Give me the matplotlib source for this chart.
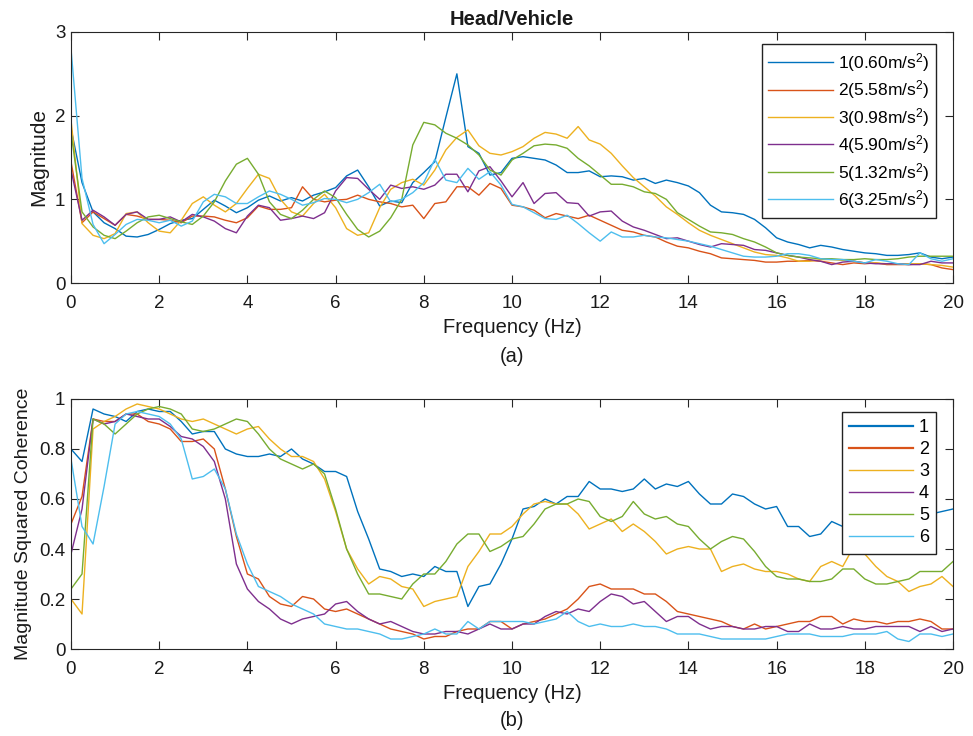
import numpy as np
import matplotlib
matplotlib.use("Agg")
import matplotlib.pyplot as plt

plt.rcParams['font.family'] = ['Liberation Sans', 'DejaVu Sans']
plt.rcParams['mathtext.default'] = 'regular'

# frequency grid (Hz)
freq = np.linspace(0, 20, 81)

# (a) Head/Vehicle transmissibility magnitude
mag1 = [1.85, 1.2, 0.85, 0.72, 0.65, 0.56, 0.55, 0.58, 0.64, 0.71,
        0.75, 0.77, 0.88, 0.99, 0.92, 0.84, 0.9, 0.99, 1.04, 0.98,
        1.02, 0.98, 1.05, 1.09, 1.14, 1.28, 1.35, 1.15, 0.92, 0.98,
        0.96, 1.2, 1.32, 1.45, 1.98, 2.5, 1.63, 1.55, 1.29, 1.32,
        1.49, 1.51, 1.49, 1.47, 1.41, 1.32, 1.32, 1.34, 1.27, 1.28,
        1.27, 1.23, 1.25, 1.19, 1.23, 1.2, 1.16, 1.08, 0.93, 0.85,
        0.84, 0.82, 0.76, 0.66, 0.54, 0.49, 0.46, 0.42, 0.45, 0.43,
        0.4, 0.38, 0.36, 0.35, 0.33, 0.33, 0.34, 0.36, 0.31, 0.29,
        0.31]
mag2 = [1.45, 0.72, 0.85, 0.77, 0.69, 0.82, 0.8, 0.76, 0.76, 0.75,
        0.72, 0.8, 0.8, 0.79, 0.75, 0.72, 0.78, 0.92, 0.88, 0.88,
        0.9, 1.15, 1.0, 0.97, 0.99, 1.0, 1.05, 1.0, 0.97, 0.95,
        0.91, 0.93, 0.77, 0.95, 0.97, 1.15, 1.15, 1.05, 1.19, 1.13,
        0.93, 0.91, 0.87, 0.78, 0.83, 0.8, 0.77, 0.81, 0.75, 0.69,
        0.63, 0.61, 0.57, 0.55, 0.49, 0.44, 0.42, 0.38, 0.35, 0.3,
        0.29, 0.28, 0.27, 0.25, 0.25, 0.26, 0.26, 0.27, 0.26, 0.24,
        0.22, 0.24, 0.23, 0.24, 0.22, 0.22, 0.22, 0.23, 0.22, 0.18,
        0.16]
mag3 = [1.95, 0.71, 0.57, 0.53, 0.59, 0.83, 0.85, 0.72, 0.62, 0.6,
        0.75, 0.95, 1.03, 0.93, 0.85, 0.95, 1.13, 1.3, 1.25, 1.0,
        0.85, 0.8, 0.95, 1.06, 0.9, 0.65, 0.57, 0.6, 0.9, 1.12,
        1.2, 1.24, 1.17, 1.35, 1.59, 1.74, 1.83, 1.64, 1.55, 1.53,
        1.57, 1.63, 1.73, 1.8, 1.78, 1.73, 1.87, 1.71, 1.66, 1.55,
        1.4, 1.26, 1.15, 1.04, 0.91, 0.82, 0.72, 0.63, 0.57, 0.52,
        0.47, 0.42, 0.37, 0.34, 0.33, 0.3, 0.26, 0.26, 0.28, 0.28,
        0.27, 0.26, 0.24, 0.24, 0.23, 0.23, 0.23, 0.23, 0.22, 0.21,
        0.19]
mag4 = [1.35, 0.75, 0.87, 0.79, 0.69, 0.82, 0.85, 0.76, 0.76, 0.79,
        0.73, 0.82, 0.79, 0.74, 0.65, 0.6, 0.8, 0.93, 0.9, 0.75,
        0.77, 0.8, 0.77, 0.84, 1.1, 1.26, 1.25, 1.12, 1.0, 1.17,
        1.13, 1.15, 1.12, 1.17, 1.3, 1.3, 1.09, 1.34, 1.39, 1.22,
        1.03, 1.2, 0.95, 1.07, 1.08, 0.96, 0.95, 0.8, 0.85, 0.86,
        0.74, 0.67, 0.63, 0.58, 0.53, 0.54, 0.5, 0.46, 0.43, 0.47,
        0.46, 0.45, 0.4, 0.39, 0.36, 0.33, 0.31, 0.28, 0.26, 0.22,
        0.25, 0.26, 0.24, 0.23, 0.23, 0.23, 0.22, 0.22, 0.26, 0.24,
        0.24]
mag5 = [1.8, 0.85, 0.67, 0.57, 0.53, 0.62, 0.72, 0.79, 0.81, 0.77,
        0.73, 0.7, 0.8, 0.97, 1.22, 1.42, 1.49, 1.3, 0.97, 0.82,
        0.77, 0.87, 1.0, 1.1, 1.02, 0.82, 0.64, 0.55, 0.62, 0.78,
        1.0, 1.65, 1.92, 1.89, 1.79, 1.73, 1.65, 1.53, 1.35, 1.29,
        1.47, 1.55, 1.64, 1.66, 1.65, 1.61, 1.49, 1.4, 1.29, 1.18,
        1.18, 1.15, 1.09, 1.07, 1.0, 0.84, 0.76, 0.68, 0.61, 0.6,
        0.58, 0.53, 0.49, 0.43, 0.36, 0.33, 0.31, 0.3, 0.29, 0.29,
        0.28, 0.28, 0.29, 0.28, 0.28, 0.29, 0.31, 0.32, 0.32, 0.32,
        0.32]
mag6 = [2.8, 1.25, 0.7, 0.47, 0.58, 0.7, 0.76, 0.75, 0.72, 0.75,
        0.68, 0.74, 0.97, 1.06, 1.03, 0.95, 0.95, 1.03, 1.1, 1.06,
        1.0, 0.93, 0.96, 1.01, 1.0, 0.96, 1.0, 1.08, 1.18, 0.97,
        1.0, 1.08, 1.2, 1.48, 1.23, 1.2, 1.37, 1.24, 1.33, 1.17,
        0.94, 0.91, 0.84, 0.77, 0.76, 0.81, 0.71, 0.6, 0.5, 0.61,
        0.55, 0.55, 0.57, 0.55, 0.54, 0.52, 0.5, 0.47, 0.44, 0.4,
        0.36, 0.32, 0.31, 0.31, 0.32, 0.35, 0.35, 0.33, 0.29, 0.28,
        0.28, 0.26, 0.24, 0.28, 0.26, 0.23, 0.22, 0.36, 0.29, 0.26,
        0.29]

# (b) magnitude squared coherence
coh1 = [0.8, 0.75, 0.96, 0.94, 0.93, 0.91, 0.95, 0.96, 0.95, 0.95,
        0.91, 0.86, 0.87, 0.87, 0.8, 0.78, 0.77, 0.77, 0.78, 0.77,
        0.8, 0.76, 0.74, 0.71, 0.71, 0.69, 0.55, 0.44, 0.32, 0.31,
        0.29, 0.3, 0.29, 0.33, 0.31, 0.31, 0.17, 0.25, 0.26, 0.34,
        0.44, 0.56, 0.57, 0.6, 0.58, 0.61, 0.61, 0.67, 0.64, 0.64,
        0.63, 0.64, 0.68, 0.64, 0.66, 0.65, 0.67, 0.62, 0.58, 0.58,
        0.62, 0.61, 0.58, 0.56, 0.57, 0.49, 0.49, 0.45, 0.46, 0.51,
        0.49, 0.46, 0.48, 0.5, 0.52, 0.5, 0.52, 0.53, 0.54, 0.55,
        0.56]
coh2 = [0.5, 0.61, 0.92, 0.91, 0.91, 0.94, 0.94, 0.91, 0.9, 0.88,
        0.83, 0.83, 0.84, 0.8, 0.64, 0.45, 0.3, 0.28, 0.21, 0.18,
        0.17, 0.21, 0.2, 0.16, 0.15, 0.16, 0.14, 0.12, 0.1, 0.08,
        0.07, 0.06, 0.04, 0.05, 0.05, 0.07, 0.08, 0.08, 0.11, 0.11,
        0.08, 0.1, 0.11, 0.12, 0.14, 0.16, 0.2, 0.25, 0.26, 0.24,
        0.24, 0.24, 0.22, 0.22, 0.19, 0.15, 0.14, 0.13, 0.12, 0.11,
        0.09, 0.08, 0.1, 0.08, 0.09, 0.1, 0.11, 0.11, 0.13, 0.13,
        0.1, 0.12, 0.11, 0.11, 0.1, 0.11, 0.11, 0.12, 0.11, 0.08,
        0.08]
coh3 = [0.2, 0.14, 0.88, 0.91, 0.93, 0.96, 0.98, 0.97, 0.96, 0.94,
        0.92, 0.91, 0.92, 0.9, 0.88, 0.86, 0.88, 0.89, 0.84, 0.8,
        0.77, 0.77, 0.75, 0.68, 0.55, 0.4, 0.32, 0.26, 0.29, 0.28,
        0.25, 0.24, 0.17, 0.19, 0.2, 0.21, 0.33, 0.39, 0.46, 0.46,
        0.49, 0.54, 0.58, 0.59, 0.58, 0.58, 0.54, 0.48, 0.5, 0.52,
        0.47, 0.5, 0.47, 0.43, 0.38, 0.4, 0.41, 0.4, 0.4, 0.31,
        0.33, 0.34, 0.32, 0.31, 0.31, 0.3, 0.28, 0.27, 0.33, 0.35,
        0.33, 0.41, 0.38, 0.33, 0.29, 0.27, 0.23, 0.25, 0.26, 0.29,
        0.25]
coh4 = [0.38, 0.56, 0.92, 0.9, 0.91, 0.94, 0.93, 0.92, 0.92, 0.89,
        0.85, 0.84, 0.81, 0.75, 0.6, 0.34, 0.24, 0.19, 0.16, 0.12,
        0.1, 0.12, 0.13, 0.14, 0.18, 0.19, 0.15, 0.12, 0.1, 0.11,
        0.09, 0.07, 0.06, 0.06, 0.07, 0.07, 0.06, 0.08, 0.1, 0.08,
        0.08, 0.1, 0.1, 0.13, 0.15, 0.14, 0.16, 0.15, 0.19, 0.22,
        0.21, 0.18, 0.19, 0.15, 0.11, 0.13, 0.13, 0.1, 0.08, 0.09,
        0.09, 0.08, 0.08, 0.09, 0.09, 0.07, 0.07, 0.1, 0.08, 0.08,
        0.09, 0.08, 0.08, 0.09, 0.09, 0.09, 0.09, 0.07, 0.09, 0.07,
        0.08]
coh5 = [0.24, 0.3, 0.92, 0.9, 0.86, 0.9, 0.94, 0.96, 0.97, 0.96,
        0.94, 0.88, 0.87, 0.88, 0.9, 0.92, 0.91, 0.86, 0.8, 0.76,
        0.74, 0.72, 0.74, 0.7, 0.56, 0.4, 0.3, 0.22, 0.22, 0.21,
        0.2, 0.26, 0.3, 0.3, 0.35, 0.42, 0.46, 0.46, 0.39, 0.41,
        0.44, 0.45, 0.5, 0.56, 0.58, 0.58, 0.6, 0.59, 0.53, 0.51,
        0.53, 0.59, 0.54, 0.52, 0.53, 0.5, 0.49, 0.44, 0.4, 0.43,
        0.45, 0.44, 0.39, 0.33, 0.29, 0.28, 0.28, 0.27, 0.27, 0.28,
        0.32, 0.32, 0.28, 0.26, 0.26, 0.27, 0.28, 0.31, 0.31, 0.31,
        0.35]
coh6 = [0.76, 0.49, 0.42, 0.65, 0.9, 0.94, 0.95, 0.94, 0.93, 0.9,
        0.84, 0.68, 0.69, 0.72, 0.64, 0.46, 0.34, 0.25, 0.23, 0.21,
        0.18, 0.16, 0.14, 0.1, 0.09, 0.08, 0.08, 0.07, 0.06, 0.04,
        0.04, 0.05, 0.06, 0.08, 0.06, 0.06, 0.11, 0.08, 0.11, 0.11,
        0.11, 0.11, 0.1, 0.11, 0.12, 0.15, 0.11, 0.09, 0.1, 0.09,
        0.09, 0.1, 0.09, 0.09, 0.08, 0.06, 0.06, 0.06, 0.05, 0.04,
        0.04, 0.04, 0.04, 0.04, 0.05, 0.06, 0.06, 0.06, 0.05, 0.05,
        0.05, 0.06, 0.06, 0.06, 0.07, 0.04, 0.03, 0.06, 0.06, 0.05,
        0.06]

labels_a = ['1(0.60m/s$^{2}$)', '2(5.58m/s$^{2}$)', '3(0.98m/s$^{2}$)',
            '4(5.90m/s$^{2}$)', '5(1.32m/s$^{2}$)', '6(3.25m/s$^{2}$)']
labels_b = ['1', '2', '3', '4', '5', '6']
colors = ['#0072BD', '#D95319', '#EDB120', '#7E2F8E', '#77AC30', '#4DBEEE']
xticks = [0, 2, 4, 6, 8, 10, 12, 14, 16, 18, 20]

AX_COL = '#262626'
TXT_COL = '#1a1a1a'

W, H = 973, 736
fig = plt.figure(figsize=(W / 100, H / 100), dpi=100)
ax1 = fig.add_axes([71 / W, 1 - 283 / H, 882 / W, 251 / H])
ax2 = fig.add_axes([71 / W, 1 - 649 / H, 882 / W, 250 / H])


def style(ax, yticks):
    ax.set_xlim(0, 20)
    ax.set_xticks(xticks)
    ax.set_yticks(yticks)
    ax.tick_params(direction='in', top=True, right=True, length=6, width=0.8,
                   color=AX_COL, labelcolor=TXT_COL, labelsize=13.5)
    ax.tick_params(axis='x', pad=9)
    ax.tick_params(axis='y', pad=4)
    for s in ax.spines.values():
        s.set_color(AX_COL)
        s.set_linewidth(0.8)
    ax.set_xlabel('Frequency (Hz)', fontsize=14.5, color=TXT_COL,
                  labelpad=4)


for y, c, lab in zip([mag1, mag2, mag3, mag4, mag5, mag6], colors, labels_a):
    ax1.plot(freq, y, color=c, lw=1.0, label=lab)
ax1.set_ylim(0, 3)
style(ax1, [0, 1, 2, 3])
ax1.set_ylabel('Magnitude', fontsize=15, labelpad=5, color=TXT_COL)
ax1.set_title('Head/Vehicle', fontweight='bold', fontsize=14.5, pad=5,
              color=TXT_COL)
leg1 = ax1.legend(loc='upper right', bbox_to_anchor=(0.981, 0.952),
                  borderaxespad=0, fontsize=12.5, handlelength=3.7,
                  labelspacing=0.26, fancybox=False, edgecolor='#222222',
                  framealpha=1, borderpad=0.4, handletextpad=0.3)
leg1.get_frame().set_linewidth(1.0)

for y, c, lab in zip([coh1, coh2, coh3, coh4, coh5, coh6], colors, labels_b):
    ax2.plot(freq, y, color=c, lw=1.0, label=lab)
ax2.set_ylim(0, 1)
style(ax2, [0, 0.2, 0.4, 0.6, 0.8, 1])
ax2.set_yticklabels(['0', '0.2', '0.4', '0.6', '0.8', '1'])
ax2.set_ylabel('Magnitude Squared Coherence', fontsize=14, labelpad=5,
               color=TXT_COL)
leg2 = ax2.legend(loc='upper right', bbox_to_anchor=(0.981, 0.948),
                  borderaxespad=0, fontsize=13, handlelength=3.5,
                  labelspacing=0.28, fancybox=False, edgecolor='#222222',
                  framealpha=1, borderpad=0.4, handletextpad=0.35)
leg2.get_frame().set_linewidth(1.0)
for i, ln in enumerate(leg2.get_lines()):
    ln.set_linewidth(1.6 if i < 2 else 1.0)

fig.text(512 / W, 1 - 356 / H, '(a)', fontsize=14.5,
         ha='center', va='center', color=TXT_COL)
fig.text(512 / W, 1 - 720 / H, '(b)', fontsize=14.5,
         ha='center', va='center', color=TXT_COL)

fig.savefig('out.png', dpi=100)
